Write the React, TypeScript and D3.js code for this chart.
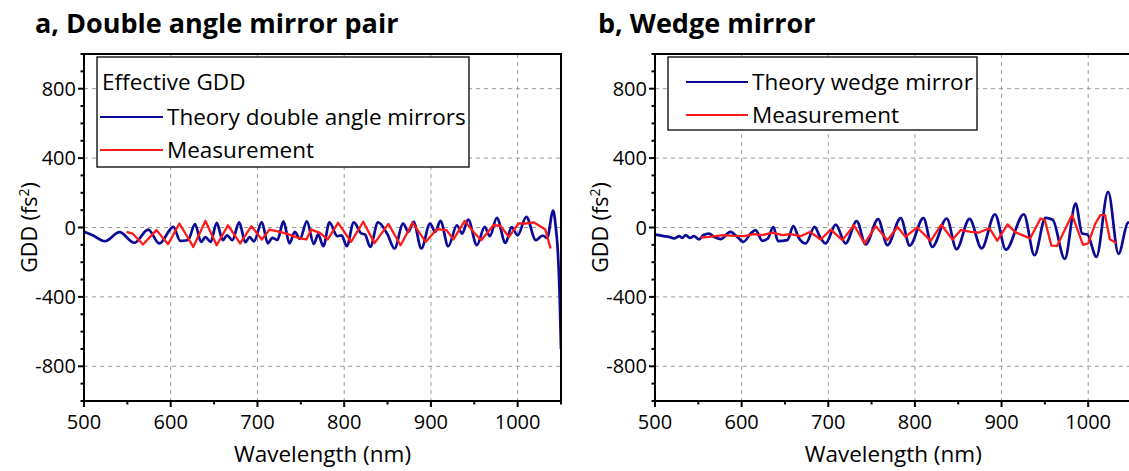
import React from "react";
import * as d3 from "d3";

// ---- panel a: double angle mirror pair ----
const pairTheoryWl = [500, 510, 524, 541, 558, 574, 587, 603, 611, 620, 628, 635, 640, 646, 653, 660, 665, 671, 679, 686, 691, 696, 705, 712, 717, 723, 730, 737, 743, 749, 757, 765, 770, 776, 783, 792, 797, 803, 811, 820, 824, 830, 839, 850, 858, 868, 874, 880, 889, 899, 905, 911, 920, 930, 936, 943, 953, 962, 968, 976, 986, 993, 1000, 1010, 1021, 1029, 1034, 1041, 1044, 1046.5, 1048.5, 1050];
const pairTheoryGdd = [-25, -45, -79, -27, -88, -12, -92, 4, -77, -72, 19, -83, -55, -83, 27, -73, -45, -73, 29, -85, -55, -80, 31, -92, -60, -72, 35, -92, -25, -65, 35, -95, -40, -108, 29, -50, -45, -108, 29, -35, -40, -112, 29, -40, -121, 23, -25, 33, -121, 23, -25, 38, -108, 13, -35, 46, -102, 4, -50, 56, -89, 2, -45, 61, -73, -46, -60, 98, 0, -150, -400, -700];

const pairMeasWl = [549, 556, 568, 583.5, 597, 610, 626, 640, 653, 666, 680, 693, 705, 714, 726, 733.5, 749, 756.5, 762, 772, 781, 793, 808, 822, 835, 851, 865, 879, 894, 907, 918, 926, 939, 949, 958, 972, 980, 990, 1001, 1009, 1019, 1032, 1038];
const pairMeasGdd = [-25, -35, -98, -15, -96, 23, -112, 38, -102, 13, -92, 8, -69, -12, -25, -35, -63, -69, -12, -31, -69, 27, -83, 33, -90, 21, -102, 27, -83, -9, -15, -68, 38, -25, -73, 13, 10, -54, 23, 23, 29, -12, -121];

// ---- panel b: wedge mirror ----
const wedgeTheoryWl = [499, 504, 510, 516, 522, 528, 531.5, 535.4, 540.4, 545, 550.8, 555.8, 562.3, 568, 575.8, 587, 595, 602, 610.4, 616, 624, 630, 636.6, 642, 652.8, 659.7, 666, 674, 684.3, 690, 697, 708.6, 720, 732.8, 743.2, 757.5, 768.2, 783.6, 794, 809.8, 820, 836.7, 848, 863, 877, 892.4, 905, 925.7, 938, 950.7, 959, 973, 985.5, 993, 999, 1009.5, 1023, 1035, 1046, 1050];
const wedgeTheoryGdd = [-38, -44, -50, -54, -63, -50, -60, -44, -60, -50, -69, -44, -35, -54, -67, -25, -54, -83, -35, -15, -77, -65, 4, -79, -73, 8, -60, -92, 4, -50, -92, 17, -92, 37, -98, 48, -102, 54, -104, 54, -112, 52, -125, 50, -120, 76, -128, 76, -160, 56, 45, -181, 138, -35, -40, -169, 206, -152, 28, 30];

const wedgeMeasWl = [552.7, 562.3, 579.6, 591, 602.7, 614.3, 623.9, 635.4, 647, 656.6, 668.2, 679, 691.3, 702.8, 716.3, 729.7, 742, 754.8, 768.2, 780, 789, 802.5, 818.3, 830.4, 843.5, 853, 864.5, 874, 886, 895, 907, 916, 933, 945, 950, 957.5, 964, 981.5, 994, 1000, 1008, 1014, 1019.5, 1025, 1032.5];
const wedgeMeasGdd = [-58, -54, -44, -48, -50, -38, -44, -29, -44, -38, -50, -25, -69, -12, -73, 13, -92, 8, -73, 3, -54, 0, -77, 16, -69, -14, -25, -29, -4, -76, 18, -28, -63, 52, 42, -104, -106, 73, -100, -92, 20, 71, 71, -68, -90];

const wavelengthTicks = [500, 600, 700, 800, 900, 1000];
const wavelengthMinorTicks = [550, 650, 750, 850, 950, 1050];
const gddTicks = [-800, -400, 0, 400, 800];
const gddMinorTicks = [-1000, -900, -700, -600, -500, -300, -200, -100, 100, 200, 300, 500, 600, 700, 900, 1000];
const pairLegend = ["Theory double angle mirrors", "Measurement"];
const wedgeLegend = ["Theory wedge mirror", "Measurement"];

const THEORY_COLOR = "#0a0a96";
const MEAS_COLOR = "#ff1a1a";
const FONT = "'Open Sans', 'Noto Sans', sans-serif";
const LEGEND_SIZE = 22.5;

type PanelProps = {
  id: string;
  title: string;
  left: number;
  right: number;
  titleX: number;
  theoryWl: number[];
  theoryGdd: number[];
  measWl: number[];
  measGdd: number[];
  legend: React.ReactNode;
};

const TOP = 54;
const BOTTOM = 401;

function Panel(p: PanelProps) {
  const x = d3.scaleLinear().domain([500, 1050]).range([p.left, p.right]);
  const y = d3.scaleLinear().domain([-1000, 1000]).range([BOTTOM, TOP]);

  const theoryPts: [number, number][] = p.theoryWl.map((w, i) => [w, p.theoryGdd[i]]);
  const measPts: [number, number][] = p.measWl.map((w, i) => [w, p.measGdd[i]]);

  const theoryLine = d3
    .line<[number, number]>()
    .x((d) => x(d[0]))
    .y((d) => y(d[1]))
    .curve(d3.curveMonotoneX);
  const measLine = d3
    .line<[number, number]>()
    .x((d) => x(d[0]))
    .y((d) => y(d[1]))
    .curve(d3.curveLinear);

  const clipId = `clip-${p.id}`;
  const cx = (p.left + p.right) / 2;

  return (
    <g>
      <defs>
        <clipPath id={clipId}>
          <rect x={p.left} y={TOP} width={p.right - p.left} height={BOTTOM - TOP} />
        </clipPath>
      </defs>

      {/* panel title */}
      <text x={p.titleX} y={33} fontFamily={FONT} fontWeight={700} fontSize={27} fill="#000">
        {p.title}
      </text>

      {/* dashed grid */}
      <g stroke="#9a9a9a" strokeWidth={1} strokeDasharray="4,4">
        {wavelengthTicks
          .filter((t) => t > 500)
          .map((t) => (
            <line key={`gx${t}`} x1={x(t)} x2={x(t)} y1={TOP} y2={BOTTOM} />
          ))}
        {gddTicks.map((t) => (
          <line key={`gy${t}`} x1={p.left} x2={p.right} y1={y(t)} y2={y(t)} />
        ))}
      </g>

      {/* data */}
      <g clipPath={`url(#${clipId})`} fill="none" strokeLinejoin="round">
        <path d={theoryLine(theoryPts) || ""} stroke={THEORY_COLOR} strokeWidth={2.7} />
        <path d={measLine(measPts) || ""} stroke={MEAS_COLOR} strokeWidth={2.3} />
      </g>

      {p.legend}

      {/* frame */}
      <rect
        x={p.left}
        y={TOP}
        width={p.right - p.left}
        height={BOTTOM - TOP}
        fill="none"
        stroke="#000"
        strokeWidth={2}
      />

      {/* ticks */}
      <g stroke="#000" strokeWidth={2}>
        {wavelengthTicks.map((t) => (
          <line key={`tx${t}`} x1={x(t)} x2={x(t)} y1={BOTTOM} y2={BOTTOM + 6} />
        ))}
        {wavelengthMinorTicks.map((t) => (
          <line key={`mx${t}`} x1={x(t)} x2={x(t)} y1={BOTTOM} y2={BOTTOM + 3.5} />
        ))}
        {gddTicks.map((t) => (
          <line key={`ty${t}`} x1={p.left - 6} x2={p.left} y1={y(t)} y2={y(t)} />
        ))}
        {gddMinorTicks.map((t) => (
          <line key={`my${t}`} x1={p.left - 3.5} x2={p.left} y1={y(t)} y2={y(t)} />
        ))}
      </g>

      <g fontFamily={FONT} fontSize={20} fill="#000">
        {wavelengthTicks.map((t) => (
          <text key={`lx${t}`} x={x(t)} y={429} textAnchor="middle">
            {t}
          </text>
        ))}
        {gddTicks.map((t) => (
          <text key={`ly${t}`} x={p.left - 8} y={y(t) + 7} textAnchor="end">
            {String(t)}
          </text>
        ))}
      </g>

      <text x={cx} y={462} textAnchor="middle" fontFamily={FONT} fontSize={22.5} fill="#000">
        Wavelength (nm)
      </text>
      <text
        transform={`translate(${p.left - 47},${(TOP + BOTTOM) / 2}) rotate(-90)`}
        textAnchor="middle"
        fontFamily={FONT}
        fontSize={21.5}
        fill="#000"
      >
        GDD (fs
        <tspan fontSize={14} dy={-8}>
          2
        </tspan>
        <tspan dy={8}>)</tspan>
      </text>
    </g>
  );
}

function LegendRow({ x, y, color, label, lineLen }: { x: number; y: number; color: string; label: string; lineLen: number }) {
  return (
    <g>
      <line x1={x} x2={x + lineLen} y1={y} y2={y} stroke={color} strokeWidth={2} />
      <text x={x + lineLen + 4} y={y + 8} fontFamily={FONT} fontSize={LEGEND_SIZE} fill="#000">
        {label}
      </text>
    </g>
  );
}

export default function App() {
  const pairLegendNode = (
    <g>
      <rect x={97} y={57} width={372} height={110} fill="#fff" stroke="#000" strokeWidth={1.3} />
      <text x={102} y={90} fontFamily={FONT} fontSize={LEGEND_SIZE} fill="#000">
        Effective GDD
      </text>
      <LegendRow x={100} y={117} color={THEORY_COLOR} label={pairLegend[0]} lineLen={63} />
      <LegendRow x={100} y={150} color={MEAS_COLOR} label={pairLegend[1]} lineLen={63} />
    </g>
  );
  const wedgeLegendNode = (
    <g>
      <rect x={668} y={57} width={309} height={73} fill="#fff" stroke="#000" strokeWidth={1.3} />
      <LegendRow x={686} y={82} color={THEORY_COLOR} label={wedgeLegend[0]} lineLen={62} />
      <LegendRow x={686} y={115} color={MEAS_COLOR} label={wedgeLegend[1]} lineLen={62} />
    </g>
  );

  return (
    <svg
      width={1129}
      height={471}
      viewBox="0 0 1129 471"
      style={{ position: "absolute", left: 0, top: 0, display: "block", background: "#fff" }}
    >
      <rect x={0} y={0} width={1129} height={471} fill="#fff" />
      <Panel
        id="pair"
        title="a, Double angle mirror pair"
        left={84}
        right={561}
        titleX={35}
        theoryWl={pairTheoryWl}
        theoryGdd={pairTheoryGdd}
        measWl={pairMeasWl}
        measGdd={pairMeasGdd}
        legend={pairLegendNode}
      />
      <Panel
        id="wedge"
        title="b, Wedge mirror"
        left={655}
        right={1131.5}
        titleX={598}
        theoryWl={wedgeTheoryWl}
        theoryGdd={wedgeTheoryGdd}
        measWl={wedgeMeasWl}
        measGdd={wedgeMeasGdd}
        legend={wedgeLegendNode}
      />
    </svg>
  );
}
